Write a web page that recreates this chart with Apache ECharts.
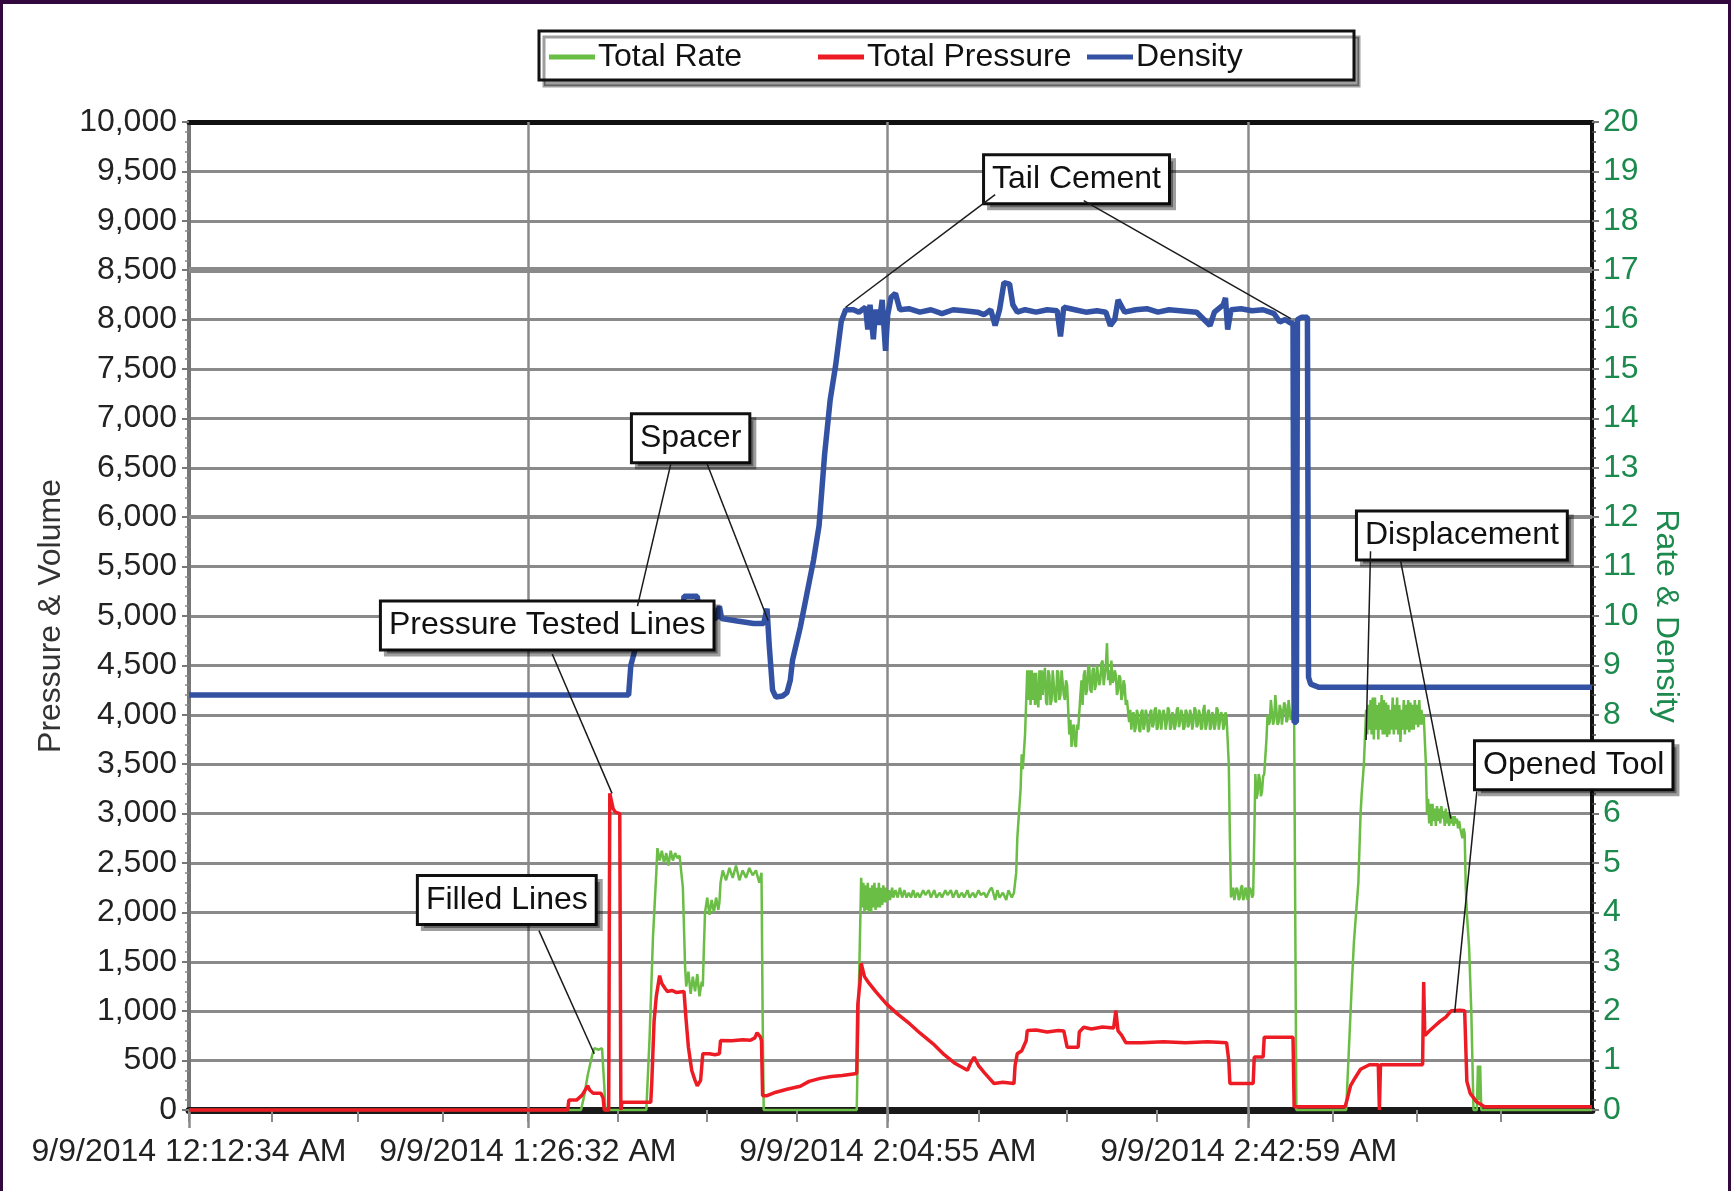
<!DOCTYPE html>
<html>
<head>
<meta charset="utf-8">
<script src="https://cdn.jsdelivr.net/npm/echarts@6/dist/echarts.min.js"></script>
<style>
html,body{margin:0;padding:0;background:#fff;}
#main{width:1731px;height:1191px;}
</style>
</head>
<body>
<div id="main"></div>
<script>
// ---------- data (x = sample index along the record, y = axis units) ----------
const xMajorTicks = [0, 306, 631, 957];
const xMinorTicks = [75, 152, 229, 387, 468, 549, 713, 793, 874, 1033, 1109, 1185];
const xLabels = ['9/9/2014 12:12:34 AM', '9/9/2014 1:26:32 AM', '9/9/2014 2:04:55 AM', '9/9/2014 2:42:59 AM'];
const seriesNames = ['Total Rate', 'Total Pressure', 'Density'];

const rateData = [
  [0,0],[354,0],[357,0.3],[360,0.7],[362,0.9],[364,1.1],[366,1.25],[370,1.22],[373,1.25],[375,0.5],[376,0],
  [413,0],[416,1.5],[419,3.5],[422,4.8],[423,5.3],[425,5.05],[427,5.25],[429,5.0],[431,5.2],[433,4.95],[435,5.25],[437,5.05],[439,5.2],[441,5.1],[443,5.15],
  [446,4.5],[448,2.9],[449,2.5],[451,2.8],[453,2.35],[455,2.7],[457,2.4],[459,2.75],[461,2.3],[463,2.6],[464,2.5],
  [465,3.3],[466,4.0],[468,4.3],[470,3.95],[472,4.25],[474,4.0],[476,4.3],[478,4.05],[479,4.2],
  [480,4.6],[482,4.85],[485,4.65],[488,4.9],[491,4.7],[494,4.95],[497,4.65],[500,4.85],[503,4.7],[506,4.9],[509,4.75],[512,4.85],[515,4.6],[517,4.8],
  [518,2.0],[519,0],
  [603,0],[605,2.5],[607,4.7],[608,4.1],[609,4.6],[610,4.0],[611,4.55],[612,4.05],[613,4.6],[614,4.0],[615,4.5],[616,4.0],[617,4.55],[618,4.1],[619,4.6],[620,4.05],
  [621,4.5],[622,4.1],[623,4.6],[624,4.1],[625,4.5],[626,4.15],[627,4.55],[628,4.2],[629,4.5],[630,4.2],
  [632,4.45],[633,4.25],[635,4.5],[636,4.3],[638,4.45],[640,4.3],[642,4.5],[644,4.3],[646,4.45],[648,4.3],[650,4.4],[652,4.3],[654,4.45],[656,4.3],[658,4.4],[660,4.3],
  [663,4.45],[665,4.35],[668,4.45],[670,4.3],[673,4.45],[675,4.3],[678,4.4],[680,4.3],[683,4.45],[685,4.35],[688,4.45],[690,4.3],
  [693,4.45],[695,4.3],[698,4.4],[700,4.3],[703,4.45],[705,4.3],[708,4.4],[710,4.3],[713,4.45],[715,4.35],[718,4.4],[720,4.3],[723,4.45],[725,4.5],
  [728,4.25],[730,4.45],[732,4.3],[735,4.4],[738,4.25],[740,4.45],[743,4.3],[745,4.4],
  [747,4.8],[748,5.5],[751,6.5],[752,7.2],[753,6.9],[755,7.6],[757,8.9],
  [758,8.3],[759,8.9],[760,8.2],[761,8.9],[762,8.3],[763,8.85],[764,8.2],[765,8.85],[766,8.3],[767,8.15],[768,8.9],[769,8.3],[770,8.9],[771,8.4],[772,8.8],[773,8.95],
  [774,8.25],[775,8.2],[776,8.9],[777,8.8],[778,8.2],[779,8.3],[780,8.9],[781,8.9],[782,8.3],[783,8.25],[784,8.9],[785,8.85],[786,8.3],[787,8.4],[788,8.9],[789,8.9],
  [790,8.4],[791,8.3],[792,8.7],[793,8.6],
  [795,7.6],[796,7.9],[797,7.35],[798,7.75],[799,7.8],[800,7.4],[801,7.35],[802,7.8],[803,7.7],[805,8.4],
  [806,8.7],[807,8.2],[808,8.8],[809,8.9],[810,8.4],[811,8.5],[812,8.95],[813,9.0],[814,8.5],[815,8.45],[816,8.9],[817,8.95],[818,8.5],[819,8.6],[820,9.0],
  [821,9.0],[822,8.6],[823,8.7],[824,9.05],[825,9.1],[826,8.6],[827,8.8],[828,9.0],[829,9.45],[830,8.7],[831,8.9],[832,8.6],[833,9.1],[834,8.65],[835,8.7],
  [836,8.9],[837,8.8],[838,8.4],[839,8.5],[840,8.8],[841,8.75],[842,8.3],[843,8.4],[844,8.7],[845,8.6],[846,8.2],[847,8.3],[849,7.85],
  [850,8.1],[851,7.7],[852,8.0],[853,8.05],[854,7.65],[855,7.75],[856,8.1],[857,8.0],[858,7.7],[859,7.65],[860,8.05],[861,8.1],[862,7.7],[863,7.8],[864,8.1],[865,8.0],
  [866,7.65],[867,7.7],[868,8.05],[869,8.1],[870,7.75],[871,7.8],[872,8.1],[873,8.15],[874,7.7],[875,7.75],[876,8.1],[877,8.05],[878,7.7],[879,7.7],[880,8.1],
  [881,8.0],[882,7.7],[883,7.85],[884,8.15],[885,8.1],[886,7.7],[887,7.75],[888,8.05],[889,8.0],[890,7.7],[891,7.8],[892,8.1],[893,8.15],[894,7.75],[895,7.85],
  [896,8.1],[897,8.0],[898,7.7],[899,7.75],[900,8.1],[901,8.05],[902,7.75],[903,7.8],[904,8.1],[905,8.0],[906,7.7],[907,7.85],[908,8.15],[909,8.1],[910,7.75],
  [911,7.8],[912,8.1],[913,8.0],[914,7.7],[915,7.75],[916,8.1],[917,8.2],[918,7.7],[919,7.8],[920,8.05],[921,8.1],[922,7.7],[923,7.75],[924,8.05],[925,8.0],
  [926,7.7],[927,7.8],[928,8.15],[929,8.1],[930,7.7],[931,7.7],[932,8.05],[933,8.0],[934,7.7],[935,7.8],[936,8.05],[937,7.95],
  [939,7.0],[940,5.5],[941,4.3],
  [942,4.4],[943,4.5],[944,4.25],[945,4.25],[946,4.5],[947,4.45],[948,4.25],[949,4.3],[950,4.5],[951,4.55],[952,4.25],[953,4.3],[954,4.5],[955,4.45],
  [956,4.25],[957,4.25],[958,4.5],[959,4.45],[960,4.3],[961,4.35],
  [962,5.5],[963,6.8],[964,6.3],[965,6.4],[966,6.8],[967,6.7],[968,6.35],[969,6.45],[970,6.75],[971,6.8],
  [973,7.5],[974,8.0],[975,7.8],[976,7.85],[977,8.3],[978,8.3],[979,7.8],[980,7.9],[981,8.4],[982,8.4],[983,7.8],[984,7.85],[985,8.2],[986,8.1],[987,7.8],
  [988,7.8],[989,8.25],[990,8.2],[991,7.85],[992,7.9],[993,8.3],[994,8.3],[995,7.9],[996,7.95],[997,8.1],[998,8.0],
  [999,4.0],[1000,0],
  [1045,0],[1050,2.5],[1052,3.4],[1054,4.0],[1056,4.6],[1058,6.0],[1059,6.4],[1061,7.0],[1063,8.1],
  [1064,7.6],[1065,8.2],[1066,7.7],[1067,8.3],[1068,7.6],[1069,8.35],[1070,7.5],[1071,8.35],[1072,7.7],[1073,8.2],[1074,7.5],[1075,8.25],[1076,7.7],[1077,8.4],
  [1078,7.6],[1079,8.3],[1080,7.6],[1081,8.25],[1082,7.55],[1083,8.2],[1084,7.6],[1085,8.1],[1086,7.7],[1087,8.35],[1088,7.6],[1089,8.2],[1090,7.7],[1091,8.35],
  [1092,7.6],[1093,8.2],[1094,7.45],[1095,8.1],[1096,7.7],[1097,8.3],[1098,7.6],[1099,8.2],[1100,7.7],[1101,8.3],[1102,7.65],[1103,8.25],[1104,7.7],[1105,8.2],
  [1106,7.7],[1107,8.3],[1108,7.8],[1109,8.2],[1110,7.75],[1111,8.3],[1112,7.8],[1113,8.1],[1114,7.8],[1115,8.0],
  [1117,7.0],[1118,6.0],[1119,6.3],[1120,5.8],[1121,6.2],[1122,5.75],[1123,6.2],[1124,5.85],[1125,6.1],[1126,5.75],[1127,6.15],[1128,5.85],[1129,6.1],[1130,5.8],
  [1131,6.15],[1132,5.9],[1133,6.05],[1134,5.75],[1135,6.1],[1136,5.8],[1137,6.0],[1138,5.75],[1139,6.0],[1140,5.8],[1141,5.95],[1142,5.75],[1143,5.95],
  [1144,5.8],[1145,5.9],[1146,5.7],[1147,5.85],[1148,5.7],[1150,5.5],[1151,5.7],[1152,5.6],
  [1153,4.5],[1154,3.98],[1156,3.3],[1158,2.0],[1160,0],[1163,0],[1164,0.9],[1165,0.2],[1166,0.9],[1167,0],[1267,0]
];

const pressureData = [
  [0,0],[342,0],[343,100],[350,100],[355,150],[360,245],[362,200],[365,170],[372,170],[374,120],[375,0],[379,0],
  [380,3205],[383,3050],[385,3015],[389,3000],[390,0],
  [391,78],[417,78],[418,300],[420,900],[422,1150],[425,1360],[427,1280],[430,1230],[432,1200],[436,1210],[440,1190],[447,1200],
  [449,900],[451,636],[454,400],[457,300],[459,245],[462,300],[464,570],[470,570],[475,560],[479,570],
  [480,703],[490,700],[500,710],[507,705],[511,730],[513,782],[516,740],[517,700],[518,145],
  [522,145],[530,180],[540,210],[552,240],[560,290],[570,320],[580,340],[590,350],[603,369],
  [604,1072],[606,1300],[607,1485],[610,1350],[613,1300],[620,1200],[630,1072],[640,970],[651,871],[660,780],[672,670],[682,560],[692,470],[703,402],
  [706,480],[709,536],[713,450],[718,380],[722,330],[727,268],[735,280],[745,268],
  [746,450],[748,570],[752,600],[756,700],[757,804],[765,810],[775,790],[785,805],[790,800],[793,636],[803,636],
  [804,790],[808,838],[815,820],[825,840],[835,830],[837,1005],[839,800],[842,760],[846,681],
  [860,681],[880,690],[900,681],[920,690],[937,681],[939,500],[940,268],[961,268],[962,536],[970,536],[971,737],[997,737],[998,33],
  [1044,33],[1046,112],[1049,246],[1053,324],[1058,413],[1066,458],[1074,458],[1075,0],[1076,458],[1114,458],
  [1115,1296],[1116,753],[1120,800],[1125,850],[1130,900],[1135,940],[1140,1005],[1148,1010],[1152,1005],
  [1154,290],[1157,168],[1163,80],[1170,33],[1267,33]
];

const densityData = [
  [0,8.4],[397,8.4],[399,9.0],[402,9.25],[405,10.0],[418,10.05],[430,9.98],[446,10.0],[447,10.4],[459,10.4],[461,10.0],
  [476,9.95],[479,10.2],[481,9.95],[495,9.9],[510,9.85],[519,9.85],[522,10.15],[524,9.4],[527,8.5],[530,8.36],[536,8.38],[540,8.45],[543,8.7],
  [545,9.1],[552,9.77],[558,10.45],[564,11.13],[569,11.83],[574,13.27],[579,14.37],[584,15.08],[589,15.96],[593,16.2],
  [600,16.2],[605,16.15],[611,16.25],[613,15.8],[615,16.3],[618,15.6],[620,16.2],[623,15.9],[626,16.4],[629,15.37],[631,16.1],[634,16.45],[638,16.53],
  [642,16.2],[650,16.22],[660,16.15],[670,16.2],[680,16.12],[690,16.2],[700,16.18],[712,16.15],[718,16.1],[724,16.2],[728,15.88],[732,16.2],
  [736,16.75],[741,16.72],[744,16.3],[748,16.15],[755,16.2],[765,16.15],[775,16.2],[784,16.18],[787,15.66],[790,16.25],[800,16.2],[810,16.15],
  [820,16.18],[828,16.15],[832,15.88],[836,16.0],[839,16.4],[845,16.15],[855,16.2],[865,16.22],[875,16.15],[885,16.2],[895,16.18],[910,16.15],
  [922,15.88],[926,16.15],[934,16.3],[936,16.44],[938,15.8],[941,16.2],[950,16.22],[960,16.18],[970,16.2],[980,16.12],[985,15.95],[990,16.0],
  [995,15.93],[997,15.93],[998,7.85],[1000,7.85],[1001,16.0],[1005,16.05],[1010,16.05],[1011,8.76],[1013,8.62],[1020,8.56],[1267,8.56]
];

// annotation boxes (text, centre in x / right-axis units) and their callout lines
const annotationTexts = ['Tail Cement', 'Spacer', 'Pressure Tested Lines', 'Filled Lines', 'Displacement', 'Opened Tool'];
const annotationAnchors = [[801.5, 18.84], [453, 13.6], [323.5, 9.81], [287, 4.25], [1149.5, 11.63], [1250.5, 6.98]];
const calloutLines = [
  [[728, 18.53], [593, 16.25]], [[808, 18.41], [995, 16.02]],
  [[435, 13.07], [405, 10.2]], [[468, 13.07], [523, 9.91]],
  [[328, 9.23], [382, 6.41]],
  [[316, 3.63], [366, 1.14]],
  [[1067, 11.31], [1063, 7.49]], [[1094, 11.13], [1139.5, 5.9]],
  [[1163, 6.45], [1143, 1.97]]
];

// ---------- chart ----------
const FONT = '"Liberation Sans", Arial, Helvetica, sans-serif';
const FS = 32;
const GREEN = '#6abd45', RED = '#ed1c24', BLUE = '#3352a3';
const AXIS_GREEN = '#1b8a4c';
const GRID_GRAY = '#8a8a8a';

const chart = echarts.init(document.getElementById('main'), null, {renderer: 'canvas'});

const legendLefts = [549, 818, 1087];

const option = {
  animation: false,
  backgroundColor: '#ffffff',
  textStyle: {fontFamily: FONT},
  grid: {left: 189, right: 139, top: 122, bottom: 81, containLabel: false, outerBoundsMode: 'none'},
  legend: seriesNames.map((n, i) => ({
    data: [n], left: legendLefts[i], top: 41, padding: 0, icon: 'rect',
    itemWidth: 46, itemHeight: 5, itemGap: 0, selectedMode: false, z: 6,
    textStyle: {fontSize: FS, color: '#111', fontFamily: FONT, padding: [0, 0, 0, -2]}
  })),
  graphic: [
    {type: 'rect', z: 1, silent: true, shape: {x: 539, y: 31, width: 815, height: 49},
     style: {fill: '#fff', stroke: '#111', lineWidth: 3, shadowColor: 'rgba(0,0,0,0.38)', shadowOffsetX: 5, shadowOffsetY: 6, shadowBlur: 0}},
    {type: 'rect', z: 100, silent: true, shape: {x: 0, y: 0, width: 1731, height: 4}, style: {fill: '#32083e'}},
    {type: 'rect', z: 100, silent: true, shape: {x: 0, y: 0, width: 3, height: 1191}, style: {fill: '#32083e'}},
    {type: 'rect', z: 100, silent: true, shape: {x: 1728, y: 0, width: 3, height: 1191}, style: {fill: '#32083e'}}
  ],
  xAxis: [
    {type: 'value', min: 0, max: 1267, position: 'bottom',
     axisLine: {show: true, onZero: false, lineStyle: {color: '#1a1a1a', width: 7}},
     axisTick: {show: true, customValues: xMajorTicks.concat(xMinorTicks), length: 12, lineStyle: {color: GRID_GRAY, width: 2}},
     axisLabel: {show: true, customValues: xMajorTicks, fontSize: FS, color: '#222', fontFamily: FONT, margin: 26,
       formatter: v => { const i = xMajorTicks.indexOf(v); return i >= 0 ? xLabels[i] : ''; }},
     splitLine: {show: false}},
    {type: 'value', min: 0, max: 1267, position: 'bottom',
     axisLine: {show: false, onZero: false},
     axisTick: {show: true, customValues: xMajorTicks, length: 18, lineStyle: {color: GRID_GRAY, width: 2.5}},
     axisLabel: {show: false}, splitLine: {show: false}},
    {type: 'value', min: 0, max: 1267, position: 'top',
     axisLine: {show: true, onZero: false, lineStyle: {color: '#111', width: 5}},
     axisTick: {show: false}, axisLabel: {show: false}, splitLine: {show: false}}
  ],
  yAxis: [
    {type: 'value', min: 0, max: 10000, interval: 500, position: 'left',
     name: 'Pressure & Volume', nameLocation: 'middle', nameGap: 122, nameRotate: 90,
     nameTextStyle: {fontSize: FS, color: '#333', fontFamily: FONT},
     axisLine: {show: true, onZero: false, lineStyle: {color: '#777', width: 4}},
     axisTick: {show: true, inside: false, length: 7, lineStyle: {color: '#777', width: 2}},
     minorTick: {show: true, splitNumber: 5, length: 4, lineStyle: {color: '#888', width: 1.5}},
     axisLabel: {fontSize: FS, color: '#222', fontFamily: FONT, margin: 12, formatter: v => v.toLocaleString('en-US')},
     splitLine: {show: true, lineStyle: {color: GRID_GRAY, width: 3}}},
    {type: 'value', min: 0, max: 20, interval: 1, position: 'right',
     name: 'Rate & Density', nameLocation: 'middle', nameGap: 56, nameRotate: -90,
     nameTextStyle: {fontSize: FS, color: AXIS_GREEN, fontFamily: FONT},
     axisLine: {show: true, onZero: false, lineStyle: {color: '#111', width: 4}},
     axisTick: {show: true, inside: false, length: 7, lineStyle: {color: '#777', width: 2}},
     minorTick: {show: true, splitNumber: 5, length: 4, lineStyle: {color: '#444', width: 1.5}},
     axisLabel: {fontSize: FS, color: AXIS_GREEN, fontFamily: FONT, margin: 11},
     splitLine: {show: false}}
  ],
  series: [
    {name: seriesNames[0], type: 'line', xAxisIndex: 0, yAxisIndex: 1, data: rateData, symbol: 'none', showSymbol: false,
     clip: false, z: 3, silent: true, lineStyle: {color: GREEN, width: 2.5}, itemStyle: {color: GREEN}},
    {name: seriesNames[1], type: 'line', xAxisIndex: 0, yAxisIndex: 0, data: pressureData, symbol: 'none', showSymbol: false,
     clip: false, z: 4, silent: true, lineStyle: {color: RED, width: 3.5}, itemStyle: {color: RED}},
    {name: seriesNames[2], type: 'line', xAxisIndex: 0, yAxisIndex: 1, data: densityData, symbol: 'none', showSymbol: false,
     clip: false, z: 5, silent: true, lineStyle: {color: BLUE, width: 5.5}, itemStyle: {color: BLUE}},
    // extra grid lines (vertical majors and the heavier horizontal lines)
    {name: 'gridlines', type: 'line', xAxisIndex: 0, yAxisIndex: 0, data: [], z: 1, silent: true,
     markLine: {z: 1, symbol: ['none', 'none'], silent: true, animation: false, label: {show: false},
       emphasis: {disabled: true},
       data: xMajorTicks.slice(1).map(v => ({xAxis: v, lineStyle: {color: GRID_GRAY, width: 2.5, type: 'solid'}}))
         .concat([{yAxis: 8500, lineStyle: {color: GRID_GRAY, width: 6, type: 'solid'}},
                  {yAxis: 6000, lineStyle: {color: GRID_GRAY, width: 4, type: 'solid'}}])}},
    // annotation boxes
    {name: 'notes', type: 'line', xAxisIndex: 0, yAxisIndex: 1, data: [], z: 20, silent: true, clip: false,
     markPoint: {z: 20, symbol: 'rect', symbolSize: 1, silent: true, animation: false, itemStyle: {color: 'rgba(0,0,0,0)'},
       label: {show: true, position: 'inside', formatter: '{b}', fontSize: FS, lineHeight: 35, color: '#111', fontFamily: FONT,
         backgroundColor: '#fff', borderColor: '#111', borderWidth: 3, padding: [6, 7, 5, 7],
         shadowColor: 'rgba(0,0,0,0.38)', shadowOffsetX: 5, shadowOffsetY: 5, shadowBlur: 0},
       emphasis: {disabled: true},
       data: annotationTexts.map((t, i) => ({name: t, coord: annotationAnchors[i]}))}},
    // callout lines
    {name: 'callouts', type: 'line', xAxisIndex: 0, yAxisIndex: 1, data: [], z: 21, silent: true, clip: false,
     markLine: {z: 21, symbol: ['none', 'none'], silent: true, animation: false, label: {show: false},
       emphasis: {disabled: true},
       lineStyle: {color: '#1a1a1a', width: 1.5, type: 'solid'},
       data: calloutLines.map(l => [{coord: l[0]}, {coord: l[1]}])}}
  ]
};

chart.setOption(option);
</script>
</body>
</html>
